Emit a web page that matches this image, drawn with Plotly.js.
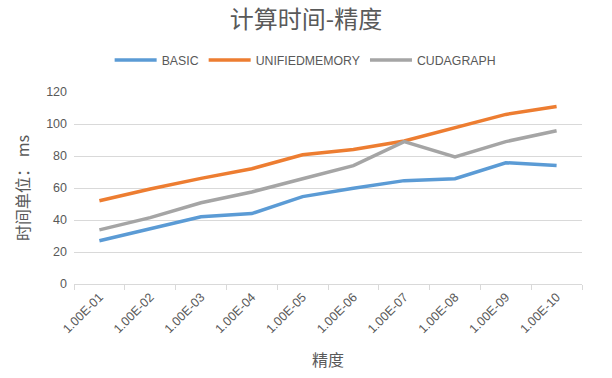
<!DOCTYPE html>
<html><head><meta charset="utf-8">
<script src="https://cdn.plot.ly/plotly-3.0.1.min.js"></script>
<style>body{margin:0;background:#fff}#c{width:612px;height:378px}</style>
</head><body><div id="c"></div>
<script>
const categories = ["1.00E-01","1.00E-02","1.00E-03","1.00E-04","1.00E-05","1.00E-06","1.00E-07","1.00E-08","1.00E-09","1.00E-10"];
const basic = [27, 34.4, 42, 44, 54.6, 59.8, 64.6, 65.8, 75.8, 74];
const unified = [52, 59.4, 66, 72, 80.8, 84, 89.4, 97.7, 106, 111];
const cudagraph = [33.8, 41.5, 50.8, 57.5, 65.8, 74, 89, 79.4, 89, 95.8];
const seriesNames = ["BASIC", "UNIFIEDMEMORY", "CUDAGRAPH"];
const colors = ["#5B9BD5", "#ED7D31", "#A5A5A5"];
const font = "'Liberation Sans', Arial, sans-serif";
const cjk = "'Noto Sans CJK SC', sans-serif";
const data = [basic, unified, cudagraph].map((ys, i) => ({
  x: categories, y: ys, type: "scatter", mode: "lines", name: seriesNames[i],
  line: {color: colors[i], width: 3.5}
}));
const layout = {
  width: 612, height: 378,
  margin: {l: 74, r: 30, t: 92, b: 94},
  paper_bgcolor: "#fff", plot_bgcolor: "#fff",
  title: {text: "计算时间-精度", x: 0.5, xanchor: "center", y: 0.947, yanchor: "middle",
          font: {family: cjk, size: 24, color: "#595959"}},
  showlegend: true,
  legend: {orientation: "h", x: 0.455, xanchor: "center", y: 1.167, yanchor: "middle",
           font: {family: font, size: 12.3, color: "#595959"}, itemwidth: 42, traceorder: "normal"},
  xaxis: {
    type: "category", range: [-0.5, 9.5], tickangle: -45, tickson: "boundaries", ticks: "outside", ticklen: 5,
    tickcolor: "#D9D9D9", showline: true, linecolor: "#D9D9D9", linewidth: 1, showgrid: false,
    tickfont: {family: font, size: 12.5, color: "#595959"},
    title: {text: "精度", font: {family: cjk, size: 16, color: "#595959"}, standoff: 19}
  },
  yaxis: {
    range: [0, 120], dtick: 20, showgrid: true, gridcolor: "#D9D9D9", gridwidth: 1,
    zeroline: false, showline: false, ticks: "", ticklabelstandoff: 6,
    tickfont: {family: font, size: 12.5, color: "#595959"},
    title: {text: "时间单位： ms", font: {family: cjk, size: 16, color: "#595959"}, standoff: 12}
  }
};
Plotly.newPlot("c", data, layout, {displayModeBar: false, staticPlot: true});
</script></body></html>
